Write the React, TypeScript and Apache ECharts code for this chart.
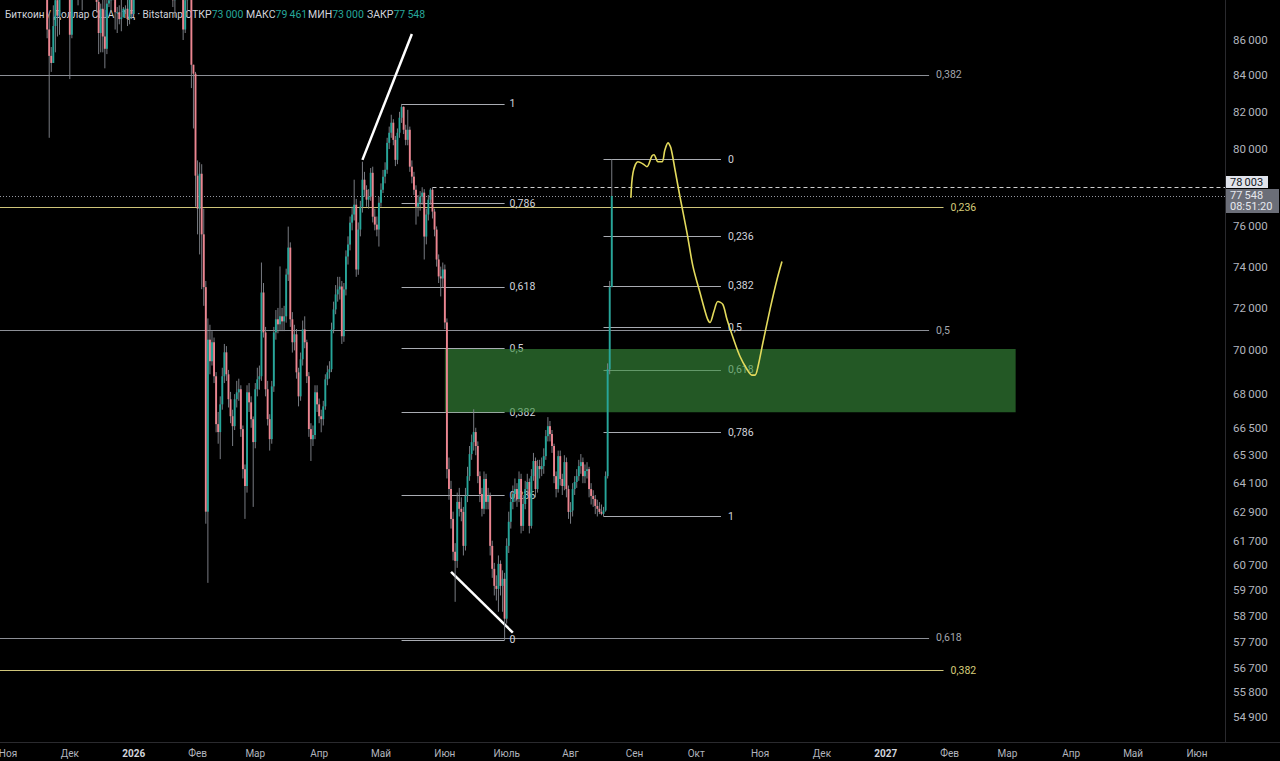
import React, { useEffect, useRef } from 'react';
import * as echarts from 'echarts';

// ---------- data ----------
const FIRST_DAY = '2025-10-28';
const FIRST_OPEN = 114100;
// daily rows: [close, low, high]; open = previous close
const candleRows: number[][] = [
  [112900, 112000, 116100], [110000, 109700, 113600], [108300, 106300, 111600], [109600, 108000, 111200],
  [110100, 109300, 110600], [110600, 109600, 111200], [106500, 105300, 110800], [101500, 98900, 106600],
  [103900, 98900, 104500], [101300, 100300, 104200], [103300, 99300, 104100], [102300, 101500, 103500],
  [104700, 101400, 105000], [106000, 104300, 106600], [103000, 102500, 107500], [101600, 100800, 105300],
  [99700, 98000, 104000], [94500, 94000, 99800], [95600, 94400, 96800], [94200, 93000, 96600],
  [92200, 91200, 96000], [92900, 89300, 93800], [91500, 88600, 93100], [86600, 86100, 93100],
  [85100, 80600, 87500], [84700, 84200, 85600], [86800, 84700, 88000], [88300, 85300, 89000],
  [87400, 86200, 88600], [90500, 86300, 90600], [91300, 90100, 91900], [90900, 90200, 92900],
  [90800, 90400, 91200], [90400, 90300, 92000], [86300, 83800, 91500], [91300, 86100, 92300],
  [93500, 91000, 94100], [92100, 91000, 94000], [89400, 88000, 92700], [89300, 89000, 90000],
  [90400, 87700, 91700], [90600, 89600, 92200], [92700, 89600, 94500], [92000, 91500, 94400],
  [92500, 89300, 93500], [90300, 89500, 92700], [90200, 89800, 90600], [88200, 87600, 90500],
  [86400, 85200, 90000], [87800, 85300, 88100], [86200, 85300, 90200], [85500, 84400, 89400],
  [88100, 85200, 89000], [88300, 87900, 88500], [88600, 87600, 89100], [88500, 88300, 90500],
  [87600, 86600, 88200], [87600, 86400, 87900], [87200, 86900, 88000], [87300, 86500, 89400],
  [87800, 87300, 87900], [87800, 87500, 88000], [87200, 86800, 90300], [88400, 86900, 89000],
  [87500, 87200, 89100], [88700, 87400, 88800], [89900, 88400, 90900], [90600, 89200, 90700],
  [91500, 90300, 91800], [93900, 91400, 94700], [93700, 92600, 94400], [91300, 90900, 93500],
  [91000, 89300, 91500], [90500, 89600, 91800], [90400, 90300, 90700], [90800, 90200, 91100],
  [91100, 90000, 92500], [95300, 91200, 96100], [97000, 94600, 97900], [95600, 95100, 97200],
  [95500, 94300, 95700], [95100, 94900, 95700], [93600, 93500, 95500], [92600, 91900, 93600],
  [88300, 87900, 92800], [89400, 87300, 90400], [89500, 88500, 90300], [89500, 88700, 91100],
  [89200, 89000, 89800], [86600, 86000, 89200], [88300, 86400, 88900], [89200, 87300, 89400],
  [89200, 88800, 90500], [84600, 83300, 89300], [84100, 81100, 84600], [78600, 77000, 84200],
  [76900, 75600, 79400], [78700, 74600, 79300], [75600, 72900, 79200], [73000, 72100, 76900],
  [62900, 62400, 73300], [70500, 60000, 71500],
  [69500, 68900, 71200], [70380, 69300, 70900], [68810, 68500, 70600], [66660, 66300, 69000],
  [66310, 65800, 67200], [67540, 65130, 67900], [68810, 67300, 69200], [69910, 68500, 70300],
  [68900, 68600, 70200], [67770, 67400, 69100], [67010, 66700, 68100], [66570, 65700, 67300],
  [67770, 66400, 68000], [68080, 67400, 68600], [68220, 67700, 68700], [66440, 66100, 68400],
  [64700, 64300, 66600], [63980, 62600, 64900], [68080, 63700, 68400], [67630, 67200, 68500],
  [66880, 66500, 67900], [65870, 63100, 67000], [68220, 65600, 68500], [68670, 67900, 69200],
  [68810, 68200, 69300], [72740, 68600, 74200], [70840, 70600, 73200], [68220, 67900, 71100],
  [66880, 66600, 68600], [66000, 65500, 67100], [68350, 65800, 68600], [70840, 68100, 71100],
  [71460, 70500, 71900], [71220, 70800, 72000], [71600, 70900, 74010], [71360, 70900, 72000],
  [71600, 70900, 72100], [73610, 71300, 73900], [74940, 73300, 75990], [71460, 71100, 75200],
  [70380, 69900, 71800], [70750, 70000, 71200], [68990, 68700, 71000], [67900, 67450, 69200],
  [69590, 67700, 69900], [70980, 69300, 71400], [70380, 70100, 71600], [68810, 68500, 70500],
  [66440, 66100, 69000], [66000, 65050, 66700], [66180, 65700, 66600], [68080, 66000, 68400],
  [67540, 67200, 68400], [67010, 66700, 67800], [66880, 66300, 67300], [67450, 66600, 67700],
  [68670, 67300, 68900], [68990, 68400, 69300], [69130, 68700, 69500], [70980, 69000, 71300],
  [71930, 70800, 72300], [72650, 71700, 73100], [72890, 72300, 73500], [73030, 72400, 73500],
  [70660, 70300, 73300], [72890, 70400, 73200], [74500, 72600, 74800], [75090, 74100, 75500],
  [76190, 74800, 76500], [76600, 75800, 77000], [77100, 76300, 78390], [73860, 73500, 77400],
  [75840, 73600, 76200], [77000, 75500, 77300], [78390, 76700, 79330], [77870, 77500, 78800],
  [77360, 77000, 78100], [77510, 76900, 77900], [78750, 77300, 79000], [76490, 76200, 79070],
  [76090, 75800, 76900], [75840, 75500, 76500], [77200, 74990, 77500], [77870, 77000, 78200],
  [78550, 77700, 78900], [78910, 78200, 79300], [80330, 78700, 80600], [80870, 80000, 81200],
  [81410, 80600, 81840], [80490, 80200, 81600], [79430, 79100, 80700], [80870, 79200, 81100],
  [81680, 80600, 82000], [82270, 81400, 82430], [81030, 80800, 82300], [80490, 80200, 81300],
  [81030, 80200, 82110], [79070, 78800, 81200], [78550, 78200, 79400], [77870, 77600, 78800],
  [77000, 76090, 78100], [77200, 76500, 77600], [77510, 76800, 77800], [77720, 77100, 78000],
  [75490, 74350, 77900], [76600, 75100, 76900], [77360, 76300, 77600], [77870, 77100, 77950],
  [76750, 76400, 78003], [75840, 75500, 76900], [74350, 74000, 76000], [73520, 73200, 74600],
  [73420, 72550, 74000], [73860, 73000, 74200], [71310, 71000, 74100], [64700, 64300, 71500],
  [63850, 63400, 65200], [62600, 62200, 64200], [61250, 60900, 62900], [60880, 59250, 61600],
  [63310, 60600, 63700], [63020, 62700, 63900], [62890, 62500, 63500], [61490, 61100, 63100],
  [63560, 61300, 63900], [64400, 63300, 64800], [65350, 64200, 65700], [65870, 65100, 66200],
  [66310, 65500, 67320], [65700, 65300, 66500], [64400, 64100, 65900], [63640, 63300, 64600],
  [63020, 62700, 63900], [64280, 62800, 64600], [63310, 63000, 64500], [63560, 63000, 63900],
  [61490, 61100, 63700], [60560, 60200, 61700], [59880, 59500, 60800], [59760, 59300, 60300],
  [60760, 58860, 61100], [59880, 59500, 60900], [60160, 58860, 60500], [58590, 57770, 60400],
  [61490, 58400, 61800], [62480, 61200, 62900], [63310, 62200, 63700], [63640, 63000, 64000],
  [63850, 63300, 64300], [63430, 63100, 64100], [64280, 63300, 64600], [62310, 62000, 64500],
  [63220, 62100, 63600], [63850, 63000, 64200], [64150, 63600, 64500], [62310, 62000, 64300],
  [64400, 62200, 64700], [65050, 64200, 65400], [63850, 63500, 65200], [64830, 63700, 65100],
  [64700, 64300, 65100], [64830, 64400, 65200], [65260, 64500, 65600], [66130, 65100, 66400],
  [66570, 65900, 66970], [66220, 65900, 66800], [65700, 65400, 66400], [64400, 64100, 65800],
  [63850, 63500, 64600], [65260, 63700, 65500], [64280, 64000, 65500], [63980, 63600, 64500],
  [65000, 63800, 65300], [63850, 63500, 65200], [62890, 62600, 64000], [62950, 62400, 63300],
  [63850, 62700, 64100], [64150, 63600, 64400], [64400, 63900, 64700], [64830, 64200, 65100],
  [65000, 64500, 65350], [64400, 64100, 65200], [64620, 64100, 64900], [64700, 64300, 65000],
  [63850, 63500, 64800], [63560, 63200, 64100], [63430, 63100, 63800], [63140, 62800, 63600],
  [63020, 62700, 63400], [62890, 62800, 63300], [62810, 62750, 63200], [62950, 62700, 63100],
  [64400, 62900, 64600], [69130, 64300, 69400], [73000, 68900, 73300], [77548, 73000, 79461],
];

const monthStarts = [
  '2025-11-01', '2025-12-01', '2026-01-01', '2026-02-01', '2026-03-01', '2026-04-01', '2026-05-01',
  '2026-06-01', '2026-07-01', '2026-08-01', '2026-09-01', '2026-10-01', '2026-11-01', '2026-12-01',
  '2027-01-01', '2027-02-01', '2027-03-01', '2027-04-01', '2027-05-01', '2027-06-01',
];
const monthLabels = [
  'Ноя', 'Дек', '2026', 'Фев', 'Мар', 'Апр', 'Май', 'Июн', 'Июль', 'Авг', 'Сен', 'Окт', 'Ноя', 'Дек',
  '2027', 'Фев', 'Мар', 'Апр', 'Май', 'Июн',
];
const priceTicks = [86000, 84000, 82000, 80000, 76000, 74000, 72000, 70000, 68000, 66500, 65300, 64100,
  62900, 61700, 60700, 59700, 58700, 57700, 56700, 55800, 54900];

// Fibonacci retracement drawings
const fibAFrom = '2026-05-11';
const fibATo = '2026-06-30';
const fibALow = 57770;
const fibAHigh = 82430;
const fibARatios = [1, 0.786, 0.618, 0.5, 0.382, 0.236, 0];
const fibBFrom = '2026-08-17';
const fibBTo = '2026-10-13';
const fibBLow = 62700;
const fibBHigh = 79461;
const fibBRatios = [0, 0.236, 0.382, 0.5, 0.618, 0.786, 1];

// long horizontal levels
const levelPrices = [84030, 76980, 70950, 57850, 56630];
const levelLabels = ['0,382', '0,236', '0,5', '0,618', '0,382'];
const levelIsYellow = [false, true, false, false, true];
const levelEndGray = '2027-01-22';
const levelEndYellow = '2027-01-29';

// demand zone
const zoneFrom = '2026-06-01';
const zoneTo = '2027-03-05';
const zoneTop = 70070;
const zoneBottom = 67190;

// trend lines [date, price] pairs
const trendFrom = [['2026-04-22', 79430], ['2026-06-04', 60440]] as [string, number][];
const trendTo = [['2026-05-16', 86340], ['2026-07-04', 58050]] as [string, number][];

// hand-drawn forecast (days since 2025-11-01, price)
const sketchDays = [302.3, 303.3, 305.7, 308.1, 310.1, 312.5, 313.5, 315.4, 317.4, 318.8, 320.3, 321.7,
  323.7, 326.1, 329.5, 332.4, 335.8, 339.2, 340.7, 342.6, 344.5, 346.9, 348.9, 351.8, 355.2, 358.6,
  361.0, 362.5, 364.0, 366.4, 369.8, 373.2, 375.6];
const sketchPrices = [77460, 78750, 79330, 79220, 79070, 79640, 79700, 79330, 79330, 79960, 80330, 80060,
  78910, 77510, 75690, 74010, 72740, 71550, 71310, 71840, 72310, 72170, 71460, 70610, 69730, 69130,
  68860, 68860, 69270, 70380, 71930, 73370, 74250];

const rayPrice = 78003;
const rayFrom = '2026-05-26';
const countdown = '08:51:20';
const headerTitle = 'Биткоин / Доллар США · 1Д · Bitstamp';
const ohlcNames = ['ОТКР', 'МАКС', 'МИН', 'ЗАКР'];

// ---------- helpers ----------
const BASE = Date.UTC(2025, 10, 1);
const dayOf = (s: string) =>
  (Date.UTC(+s.slice(0, 4), +s.slice(5, 7) - 1, +s.slice(8, 10)) - BASE) / 86400000;
const fmt = (v: number) => String(Math.round(v)).replace(/\B(?=(\d{3})+(?!\d))/g, '\u2009');
const ratioText = (r: number) => String(r).replace('.', ',');

const X_MIN = -3.88;
const X_MAX = 590.6;
const Y_MIN = 53990;
const Y_MAX = 88312;
const FONT = 'Roboto, "Noto Sans", sans-serif';
const UP = '#26a69a';
const DOWN = '#ec8590';
const WICK = '#868991';
const FIB = '#a9acb2';
const GRAY = '#8c8f96';
const YELLOW_LINE = '#cfc57a';
const YELLOW_TEXT = '#d6cc7a';
const SEP = '#2a2a2e';
const CLEAR = 'rgba(0,0,0,0)';

function buildOption() {
  const day0 = dayOf(FIRST_DAY);
  const candleData = candleRows.map((r, i) => {
    const open = i === 0 ? FIRST_OPEN : candleRows[i - 1][0];
    return [day0 + i, open, r[0], r[1], r[2]];
  });
  const monthDays = monthStarts.map(dayOf);

  const seg = (x1: number, y1: number, x2: number, y2: number, lineStyle: any, label?: string, labelColor?: string, dist = 6) => [
    {
      coord: [x1, y1],
      lineStyle,
      label: label !== undefined
        ? { show: true, position: 'end', formatter: label, color: labelColor, fontSize: 10.5, fontFamily: FONT, distance: dist }
        : { show: false },
    },
    { coord: [x2, y2] },
  ];

  const lines: any[] = [];
  levelPrices.forEach((p, i) => {
    const yel = levelIsYellow[i];
    lines.push(seg(X_MIN, p, dayOf(yel ? levelEndYellow : levelEndGray), p,
      { color: yel ? YELLOW_LINE : GRAY, width: 1, type: 'solid' }, levelLabels[i], yel ? YELLOW_TEXT : '#a3a6ad', 7));
  });
  fibARatios.forEach((r) => {
    const p = fibALow + r * (fibAHigh - fibALow);
    lines.push(seg(dayOf(fibAFrom), p, dayOf(fibATo), p, { color: FIB, width: 1, type: 'solid' }, ratioText(r), '#d1d4dc', 5));
  });
  fibBRatios.forEach((r) => {
    const p = fibBHigh - r * (fibBHigh - fibBLow);
    lines.push(seg(dayOf(fibBFrom), p, dayOf(fibBTo), p, { color: FIB, width: 1, type: 'solid' }, ratioText(r), '#d1d4dc', 7));
  });
  trendFrom.forEach((a, i) => {
    const b = trendTo[i];
    lines.push(seg(dayOf(a[0]), a[1], dayOf(b[0]), b[1], { color: '#ffffff', width: 2.5, type: 'solid' }));
  });
  lines.push(seg(dayOf(rayFrom), rayPrice, X_MAX, rayPrice, { color: '#cfcfcf', width: 1, type: [4, 3] }));
  const last = candleRows[candleRows.length - 1][0];
  lines.push(seg(X_MIN, last, X_MAX, last, { color: '#9598a1', width: 1, type: [1, 2] }));

  const tickLines: any[] = priceTicks.map((v) => ({
    yAxis: v,
    lineStyle: { color: CLEAR, width: 1, opacity: 1, type: 'solid' },
    label: { show: true, position: 'end', formatter: fmt(v), color: '#b2b5be', fontSize: 11.5, fontFamily: FONT, distance: 8 },
  }));

  return {
    animation: false,
    backgroundColor: '#000000',
    textStyle: { fontFamily: FONT },
    grid: { left: 0, right: 55, top: 0, bottom: 19, containLabel: false, outerBoundsMode: 'none' },
    xAxis: {
      type: 'value',
      min: X_MIN,
      max: X_MAX,
      axisLine: { show: true, onZero: false, lineStyle: { color: SEP, width: 1 } },
      axisTick: { show: false },
      splitLine: { show: false },
      axisLabel: {
        customValues: monthDays,
        margin: 6,
        color: '#b2b5be',
        fontSize: 10,
        fontFamily: FONT,
        formatter: (v: number) => {
          const i = monthDays.indexOf(Math.round(v));
          if (i < 0) return '';
          const t = monthLabels[i];
          return /^\d{4}$/.test(t) ? `{y|${t}}` : t;
        },
        rich: { y: { fontWeight: 'bold', color: '#d1d4dc', fontSize: 10, fontFamily: FONT } },
      },
    },
    yAxis: {
      type: 'log',
      logBase: 10,
      min: Y_MIN,
      max: Y_MAX,
      position: 'right',
      axisLine: { show: true, onZero: false, lineStyle: { color: SEP, width: 1 } },
      axisTick: { show: false },
      axisLabel: { show: false },
      splitLine: { show: false },
    },
    series: [
      {
        name: 'levels',
        type: 'line',
        z: 1,
        data: [],
        silent: true,
        markLine: {
          silent: true,
          symbol: ['none', 'none'],
          animation: false,
          precision: 0,
          emphasis: { disabled: true },
          data: lines,
        },
      },
      {
        name: 'priceScale',
        type: 'line',
        z: 1,
        data: [],
        silent: true,
        markLine: {
          silent: true,
          symbol: ['none', 'none'],
          animation: false,
          precision: 0,
          emphasis: { disabled: true },
          data: tickLines,
        },
      },
      {
        name: 'zone',
        type: 'custom',
        z: 6,
        silent: true,
        clip: true,
        data: [[dayOf(zoneFrom), dayOf(zoneTo), zoneTop, zoneBottom]],
        encode: { x: [0, 1], y: [2, 3] },
        renderItem: (_p: any, api: any) => {
          const a = api.coord([api.value(0), api.value(2)]);
          const b = api.coord([api.value(1), api.value(3)]);
          return {
            type: 'rect',
            shape: { x: a[0], y: a[1], width: b[0] - a[0], height: b[1] - a[1] },
            style: { fill: 'rgba(56,142,60,0.62)' },
          };
        },
      },
      {
        name: 'BTCUSD',
        type: 'custom',
        z: 7,
        silent: true,
        clip: true,
        data: candleData,
        encode: { x: 0, y: [1, 2, 3, 4] },
        renderItem: (_p: any, api: any) => {
          const x = api.value(0);
          const o = api.value(1);
          const c = api.value(2);
          const lo = api.value(3);
          const hi = api.value(4);
          const pO = api.coord([x, o]);
          const pC = api.coord([x, c]);
          const pL = api.coord([x, lo]);
          const pH = api.coord([x, hi]);
          const w = (api.coord([x + 0.5, o])[0] - api.coord([x - 0.5, o])[0]) * 0.92;
          const top = Math.min(pO[1], pC[1]);
          const h = Math.max(Math.abs(pO[1] - pC[1]), 0.9);
          return {
            type: 'group',
            children: [
              { type: 'line', shape: { x1: pO[0], y1: pH[1], x2: pO[0], y2: pL[1] }, style: { stroke: WICK, lineWidth: 0.9 } },
              { type: 'rect', shape: { x: pO[0] - w / 2, y: top, width: w, height: h }, style: { fill: c >= o ? UP : DOWN } },
            ],
          };
        },
      },
      {
        name: 'sketch',
        type: 'line',
        z: 8,
        silent: true,
        smooth: 0.3,
        symbol: 'none',
        data: sketchDays.map((d, i) => [d, sketchPrices[i]]),
        lineStyle: { color: '#e3da5c', width: 1.6 },
      },
    ],
  };
}

export default function App() {
  const ref = useRef<HTMLDivElement>(null);
  useEffect(() => {
    document.body.style.margin = '0';
    document.body.style.background = '#000';
    const chart = echarts.init(ref.current as HTMLDivElement, undefined, { renderer: 'svg' });
    chart.setOption(buildOption() as any);

    const lastRow = candleRows[candleRows.length - 1];
    const prevClose = candleRows[candleRows.length - 2][0];
    const ohlcValues = [prevClose, lastRow[2], lastRow[1], lastRow[0]];
    const yLast = chart.convertToPixel({ yAxisIndex: 0 } as any, lastRow[0]) as unknown as number;
    const yRay = chart.convertToPixel({ yAxisIndex: 0 } as any, rayPrice) as unknown as number;
    const grayTop = yLast - 7;
    const whiteTop = Math.min(yRay - 6, grayTop - 13);
    const plotRight = 1225;
    const ohlcX = [185, 246, 308, 367];

    const ohlcGraphics = ohlcNames.map((n, i) => ({
      type: 'text', x: ohlcX[i], y: 14, z: 0, silent: true,
      style: {
        text: `{t|${n}}{v|${fmt(ohlcValues[i])}}`,
        verticalAlign: 'middle',
        rich: {
          t: { fill: '#d1d4dc', fontSize: 10.5, fontFamily: FONT },
          v: { fill: UP, fontSize: 10.5, fontFamily: FONT },
        },
      },
    }));

    chart.setOption({
      graphic: [
        {
          type: 'text', x: 5, y: 14, z: 0, silent: true,
          style: { text: headerTitle, verticalAlign: 'middle', font: `10px ${FONT}`, fill: '#d1d4dc' },
        },
        ...ohlcGraphics,
        { type: 'line', silent: true, shape: { x1: plotRight, y1: 742.5, x2: 1280, y2: 742.5 }, style: { stroke: SEP, lineWidth: 1 } },
        { type: 'rect', silent: true, z: 100, shape: { x: plotRight + 1, y: whiteTop, width: 42, height: 12 }, style: { fill: '#e0e3eb' } },
        {
          type: 'text', silent: true, z: 101, x: plotRight + 5, y: whiteTop + 6.5,
          style: { text: fmt(rayPrice), font: `11px ${FONT}`, fill: '#131722', verticalAlign: 'middle' },
        },
        { type: 'rect', silent: true, z: 100, shape: { x: plotRight + 1, y: grayTop, width: 53, height: 24 }, style: { fill: '#6b6e78' } },
        {
          type: 'text', silent: true, z: 101, x: plotRight + 5, y: grayTop + 6.5,
          style: { text: fmt(lastRow[0]), font: `11px ${FONT}`, fill: '#e6e8ee', verticalAlign: 'middle' },
        },
        {
          type: 'text', silent: true, z: 101, x: plotRight + 5, y: grayTop + 18,
          style: { text: countdown, font: `11px ${FONT}`, fill: '#e6e8ee', verticalAlign: 'middle' },
        },
      ],
    } as any);

    return () => chart.dispose();
  }, []);
  return (
    <div
      ref={ref}
      style={{ position: 'absolute', left: 0, top: 0, width: 1280, height: 761, background: '#000' }}
    />
  );
}
